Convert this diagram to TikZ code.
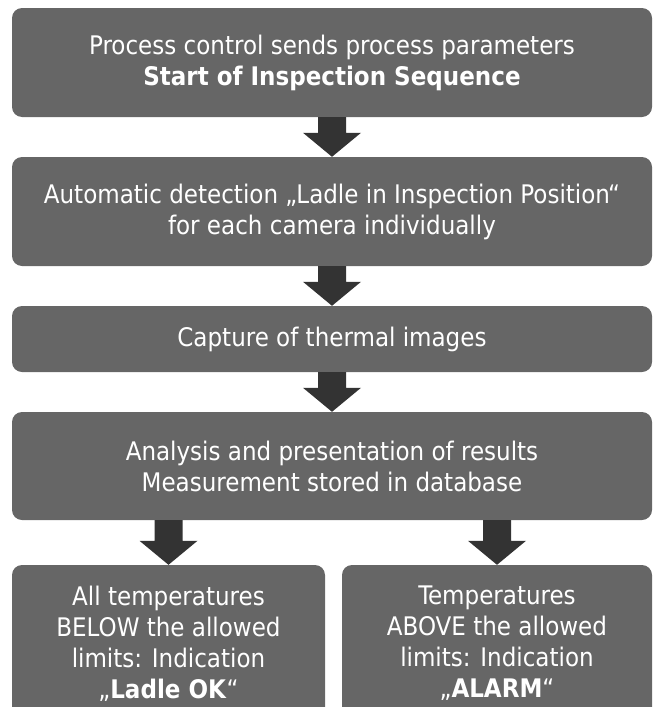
\documentclass[tikz,border=0pt]{standalone}
\usepackage{fontspec}
\setmainfont{DejaVu Sans Condensed}
\usetikzlibrary{calc}
\definecolor{boxc}{HTML}{666666}
\definecolor{arrc}{HTML}{333333}
\begin{document}
\begin{tikzpicture}[x=1pt,y=-1pt,
  box/.style={fill=boxc, draw=none, rounded corners=10pt, text=white, align=center,
    font=\fontsize{25.6}{31}\selectfont, inner sep=0pt},
  blk/.style={fill=arrc, draw=none}]
\useasboundingbox (0,0) rectangle (664,707);
\node[box, minimum width=640pt, minimum height=109pt] (b1) at (332,62.5)
  {Process control sends process parameters\\\textbf{Start of Inspection Sequence}};
\node[box, minimum width=640pt, minimum height=109pt] (b2) at (332,211.5)
  {Automatic detection „Ladle in Inspection Position“\\for each camera individually};
\node[box, minimum width=640pt, minimum height=66pt] (b3) at (332,339)
  {Capture of thermal images};
\node[box, minimum width=640pt, minimum height=108pt] (b4) at (332,466)
  {Analysis and presentation of results\\Measurement stored in database};
\node[box, minimum width=313pt, minimum height=157pt] (b5) at (168.5,643.5)
  {All temperatures\\BELOW the allowed\\limits: Indication\\„\textbf{Ladle OK}“};
\node[box, minimum width=310pt, minimum height=157pt] (b6) at (497,643.5)
  {Temperatures\\ABOVE the allowed\\limits: Indication\\„\textbf{ALARM}“};
\newcommand\blockarrow[3]{% start, tip, head length
  \fill[blk] ($(#1)+(-14,0)$) -- ($(#1)+(14,0)$) -- ($(#2)+(14,-#3)$) -- ($(#2)+(29,-#3)$)
    -- (#2) -- ($(#2)+(-29,-#3)$) -- ($(#2)+(-14,-#3)$) -- cycle;}
\blockarrow{b1.south}{b2.north}{24}
\blockarrow{b2.south}{b3.north}{24}
\blockarrow{b3.south}{b4.north}{24}
\coordinate (s5) at (b4.south -| b5.north);
\coordinate (s6) at (b4.south -| b6.north);
\blockarrow{s5}{b5.north}{24}
\blockarrow{s6}{b6.north}{24}
\end{tikzpicture}
\end{document}
